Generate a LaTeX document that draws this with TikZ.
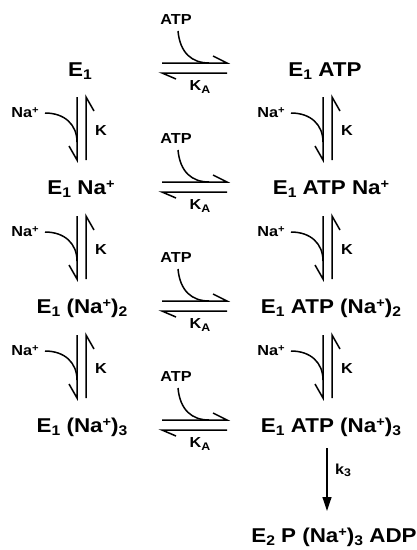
\documentclass[tikz,border=0pt]{standalone}
\usepackage{fontspec}
\setmainfont{Liberation Sans}[FakeStretch=1.12]
\usetikzlibrary{arrows.meta}
\newcommand{\lsub}[1]{\raisebox{-0.3ex}{\fontsize{14}{14}\selectfont #1}}
\newcommand{\lsup}[1]{\raisebox{0.55ex}{\fontsize{13}{13}\selectfont #1}}
\newcommand{\ssub}[1]{\raisebox{-0.3ex}{\fontsize{11}{11}\selectfont #1}}
\newcommand{\ssup}[1]{\raisebox{0.55ex}{\fontsize{10}{10}\selectfont #1}}
\begin{document}
\begin{tikzpicture}[x=1pt,y=-1pt,
  big/.style={font=\fontsize{20}{20}\selectfont\bfseries, inner sep=0},
  small/.style={font=\fontsize{14.5}{14.5}\selectfont\bfseries, inner sep=0},
  ln/.style={line width=1.5pt},
  rxn/.style={line width=1.2pt, -{Triangle[length=14pt,width=9pt]}}]
\useasboundingbox (0,0) rectangle (417,550);
\fill[white] (0,0) rectangle (417,550);
% species
\node[big] (a1) at (80,71) {E\lsub{1}};
\node[big] (b1) at (325,71) {E\lsub{1} ATP};
\node[big] (a2) at (81,189) {E\lsub{1} Na\lsup{+}};
\node[big] (b2) at (331,189) {E\lsub{1} ATP Na\lsup{+}};
\node[big] (a3) at (82,308) {E\lsub{1} (Na\lsup{+})\lsub{2}};
\node[big] (b3) at (331,308) {E\lsub{1} ATP (Na\lsup{+})\lsub{2}};
\node[big] (a4) at (82,427) {E\lsub{1} (Na\lsup{+})\lsub{3}};
\node[big] (b4) at (331,427) {E\lsub{1} ATP (Na\lsup{+})\lsub{3}};
\node[big] (c5) at (334,537) {E\lsub{2} P (Na\lsup{+})\lsub{3} ADP};
% horizontal equilibria
\foreach \r/\i in {70/1,189/2,308/3,427/4} {
  \draw[ln] (162,\r-7) -- (227,\r-7) -- (213,\r-14);
  \draw[ln] (227,\r+3) -- (162,\r+3) -- (176,\r+9);
  \node[small] (atp\i) at (176,\r-50) {ATP};
  \draw[ln] (178,\r-39) .. controls (180,\r-17) and (192,\r-7) .. (209,\r-7);
  \node[small] (ka\i) at (200,\r+17) {K\ssub{A}};
}
% vertical equilibria
\foreach \r/\i in {70/1,189/2,308/3} {
  \foreach \c/\s in {77/l,323/r} {
    \draw[ln] (\c,\r+27) -- (\c,\r+90) -- (\c-8,\r+76);
    \draw[ln] (\c+9,\r+90) -- (\c+9,\r+27) -- (\c+17,\r+41);
    \node[small] (na\s\i) at (\c-52,\r+43) {Na\ssup{+}};
    \draw[ln] (\c-32,\r+43) .. controls (\c-12,\r+43) and (\c,\r+55) .. (\c,\r+72);
    \node[small] (k\s\i) at (\c+24,\r+61) {K};
  }
}
% irreversible step
\draw[rxn] (327,448) -- (327,511);
\node[small] (k3) at (343,470) {k\ssub{3}};
\end{tikzpicture}
\end{document}
